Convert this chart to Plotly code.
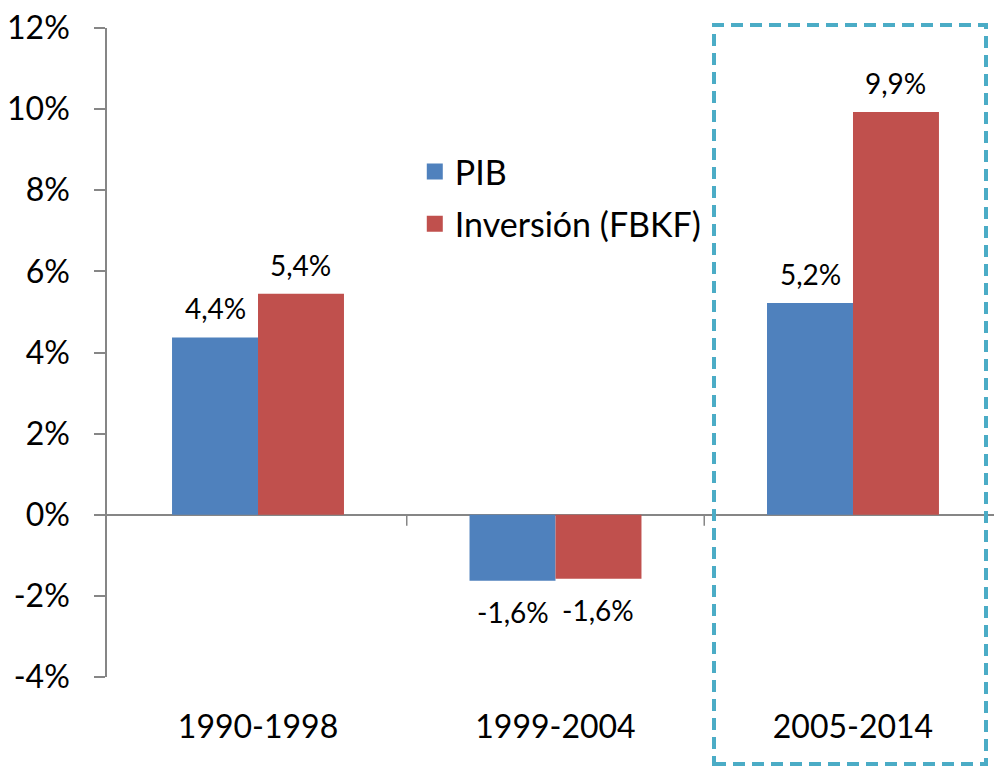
import plotly.graph_objects as go

# datos
periodos = ["1990-1998", "1999-2004", "2005-2014"]
pib = [4.37, -1.63, 5.22]
fbkf = [5.45, -1.58, 9.93]
etiq_pib = ["4,4%", "-1,6%", "5,2%"]
etiq_fbkf = ["5,4%", "-1,6%", "9,9%"]
y_ticks = [-4, -2, 0, 2, 4, 6, 8, 10, 12]

AZUL = "#4F81BD"
ROJO = "#C0504D"
GRIS = "#868686"
CIAN = "#4BACC6"
FUENTE = "Lato"

x = list(range(len(periodos)))
bargap = 0.422
off = (1 - bargap) / 4

fig = go.Figure()

fig.add_trace(go.Bar(x=x, y=pib, name="PIB", marker=dict(color=AZUL, line=dict(width=0)),
                     showlegend=False))
fig.add_trace(go.Bar(x=x, y=fbkf, name="Inversión (FBKF)", marker=dict(color=ROJO, line=dict(width=0)),
                     showlegend=False))

# entradas de leyenda (cuadrados mas grandes)
for nombre, color in [("PIB", AZUL), ("Inversión (FBKF)", ROJO)]:
    fig.add_trace(go.Scatter(x=[None], y=[None], mode="markers", name=nombre, legendgroup=nombre,
                             marker=dict(symbol="square", size=21, color=color)))

# etiquetas de datos
for serie, etiquetas, signo in [(pib, etiq_pib, -1), (fbkf, etiq_fbkf, 1)]:
    for i, (v, t) in enumerate(zip(serie, etiquetas)):
        fig.add_annotation(x=i + signo * off, y=v, text=t, showarrow=False,
                           yanchor="bottom" if v >= 0 else "top",
                           yshift=10 if v >= 0 else -12,
                           font=dict(family=FUENTE, size=28, color="black"))

# marcas entre categorias sobre el eje cero
for b in [0.5, 1.5]:
    fig.add_shape(type="line", xref="x", yref="y", x0=b, x1=b, y0=0, y1=-0.27,
                  line=dict(color=GRIS, width=1.5))

# recuadro punteado
fig.add_shape(type="rect", xref="paper", yref="paper",
              x0=(714 - 107) / 887, x1=(986 - 107) / 887,
              y0=(677 - 764) / 649, y1=(677 - 25) / 649,
              line=dict(color=CIAN, width=4, dash="12px,7px"))

fig.update_layout(
    width=994, height=767,
    margin=dict(l=107, r=0, t=28, b=90),
    paper_bgcolor="white", plot_bgcolor="white",
    barmode="group", bargap=bargap, bargroupgap=0,
    font=dict(family=FUENTE, size=32, color="black"),
    legend=dict(x=0.347, y=0.823, xanchor="left", yanchor="top",
                font=dict(family=FUENTE, size=34, color="black"),
                bgcolor="rgba(0,0,0,0)", tracegroupgap=5),
    xaxis=dict(range=[-0.5076, 2.474], tickmode="array", tickvals=x, ticktext=periodos,
               showgrid=False, zeroline=False, showline=False, ticks="",
               ticklabelstandoff=28, automargin=False),
    yaxis=dict(range=[-4, 12], tickmode="array", tickvals=y_ticks,
               ticktext=[f"{v}%" for v in y_ticks],
               showgrid=False, zeroline=True, zerolinecolor=GRIS, zerolinewidth=1.5,
               showline=True, linecolor=GRIS, linewidth=1.5,
               ticks="outside", ticklen=11, tickcolor=GRIS, tickwidth=1.5,
               ticklabelstandoff=18, automargin=False),
)

fig.write_html("out.html", config={"displayModeBar": False},
               post_script="document.body.style.margin='0';document.body.style.overflow='hidden';")
